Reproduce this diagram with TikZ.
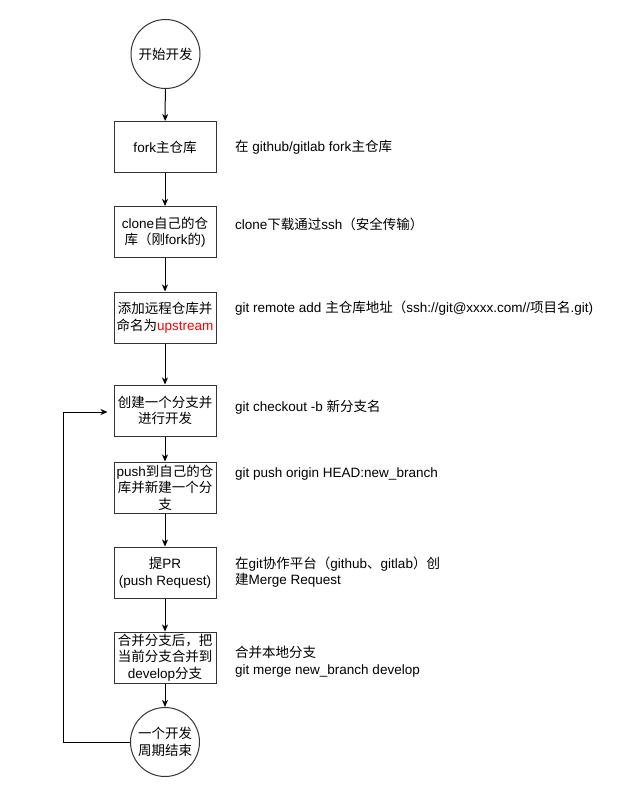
\documentclass[tikz,border=0pt]{standalone}
\usepackage{fontspec}
\setmainfont{Liberation Sans}
\newfontfamily\cjkfont{Noto Sans CJK SC}
\newfontfamily\latinfont{Liberation Sans}
\usetikzlibrary{arrows.meta}
\XeTeXinterchartokenstate=1
\newXeTeXintercharclass\cjkclass
\newcount\cjkc
\cjkc="4E00 \loop \XeTeXcharclass\cjkc=\cjkclass \advance\cjkc by 1 \ifnum\cjkc<"A000 \repeat
\cjkc="3000 \loop \XeTeXcharclass\cjkc=\cjkclass \advance\cjkc by 1 \ifnum\cjkc<"3040 \repeat
\cjkc="FF00 \loop \XeTeXcharclass\cjkc=\cjkclass \advance\cjkc by 1 \ifnum\cjkc<"FFF0 \repeat
\XeTeXinterchartoks 0 \cjkclass = {\cjkfont}
\XeTeXinterchartoks 4095 \cjkclass = {\cjkfont}
\XeTeXinterchartoks \cjkclass 0 = {\latinfont}
\XeTeXinterchartoks \cjkclass 4095 = {\latinfont}
\begin{document}
\begin{tikzpicture}[x=1pt,y=-1pt,
  every node/.style={font=\fontsize{13.5}{16.5}\selectfont, text=black},
  stepbox/.style={draw=black!80, line width=1pt, minimum width=102pt, minimum height=51pt, inner sep=0pt, align=center},
  termcirc/.style={draw=black!80, line width=1pt, circle, minimum size=69pt, inner sep=0pt, align=center},
  note/.style={anchor=west, align=left, inner sep=0pt},
  flow/.style={draw=black, line width=1pt, -{Stealth[length=7pt,width=6pt,inset=2pt]}}]
\fill[white] (0,0) rectangle (622,795);
\useasboundingbox (0,0) rectangle (622,795);
\node[termcirc] (start) at (165.5,54) {开始开发};
\node[stepbox] (fork) at (165,147) {fork主仓库};
\node[stepbox] (clone) at (165,232) {clone自己的仓\\库（刚fork的)};
\node[stepbox] (up) at (165,317.5) {添加远程仓库并\\命名为\textcolor{red}{upstream}};
\node[stepbox] (create) at (165,410.5) {创建一个分支并\\进行开发};
\node[stepbox] (push) at (165,487.5) {push到自己的仓\\库并新建一个分\\支};
\node[stepbox] (pr) at (165,572.5) {提PR\\(push Request)};
\node[stepbox] (merge) at (165,657.5) {合并分支后，把\\当前分支合并到\\develop分支};
\node[termcirc] (end) at (165,742) {一个开发\\周期结束};

\node[note] (n1) at (235,147) {在 github/gitlab fork主仓库};
\node[note] (n2) at (235,224.5) {clone下载通过ssh（安全传输）};
\node[note] (n3) at (235,308) {git remote add 主仓库地址（ssh://git@xxxx.com//项目名.git)};
\node[note] (n4) at (235,407) {git checkout -b 新分支名};
\node[note] (n5) at (235,474) {git push origin HEAD:new\_branch};
\node[note] (n6) at (235,572) {在git协作平台（github、gitlab）创\\建Merge Request};
\node[note] (n7) at (235,661.5) {合并本地分支\\git merge new\_branch develop};

\coordinate (lb) at (63,742);
\coordinate (lt) at (63,412);
\draw[flow] (start) -- (fork);
\draw[flow] (fork) -- (clone);
\draw[flow] (clone) -- (up);
\draw[flow] (up) -- (create);
\draw[flow] (create) -- (push);
\draw[flow] (push) -- (pr);
\draw[flow] (pr) -- (merge);
\draw[flow] (merge) -- (end);
\draw[flow, shorten >=6pt] (end.west) -- (lb) -- (lt) -- (lt -| create.west);
\end{tikzpicture}
\end{document}
